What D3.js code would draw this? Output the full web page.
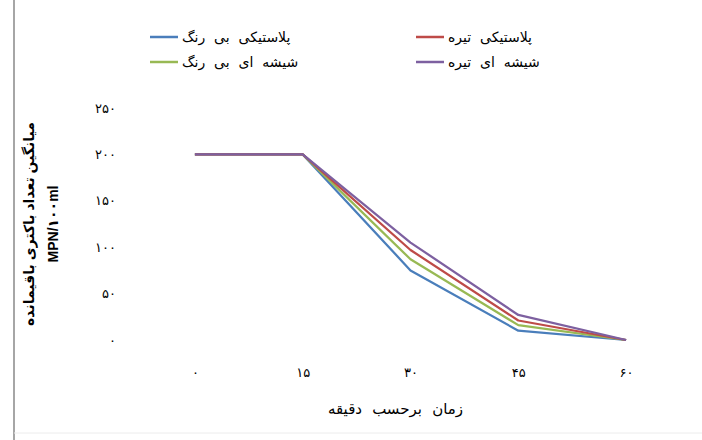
<!DOCTYPE html>
<html>
<head>
<meta charset="utf-8">
<script src="https://cdn.jsdelivr.net/npm/d3@7"></script>
<style>
    html, body { margin: 0; padding: 0; background: #ffffff; }
    #chart { width: 702px; height: 440px; position: relative; }
    text { font-family: 'Liberation Sans', 'DejaVu Sans', sans-serif; fill: #000; }
</style>
</head>
<body>
<div id="chart"></div>
<script>
// time in minutes
const categories = [0, 15, 30, 45, 60];
const categoryLabels = ['۰', '۱۵', '۳۰', '۴۵', '۶۰'];
const yTicks = [0, 50, 100, 150, 200, 250];

// remaining bacteria (MPN/100ml)
const plasticClear = [200, 200, 75, 10, 0];
const plasticDark = [200, 200, 97, 21, 0];
const glassClear = [200, 200, 87, 16, 0];
const glassDark = [200, 200, 105, 27, 0];

const seriesNames = ['پلاستیکی بی رنگ', 'پلاستیکی تیره', 'شیشه ای بی رنگ', 'شیشه ای تیره'];
const seriesColors = ['#4a7ebb', '#be4b48', '#98b954', '#7d60a0'];

const toPersian = (_n) => String(_n).replace(/\d/g, (d) => '۰۱۲۳۴۵۶۷۸۹'[d]);

const size = { width: 702, height: 440 };
const plot = { left: 141, right: 680, top: 108, bottom: 340 };

const svg = d3
    .select('#chart')
    .append('svg')
    .attr('width', size.width)
    .attr('height', size.height);

// frame edges
svg.append('line')
    .attr('x1', 14).attr('x2', 14).attr('y1', 0).attr('y2', size.height)
    .attr('stroke', '#a6a6a6').attr('stroke-width', 2);
svg.append('line')
    .attr('x1', 14).attr('x2', size.width).attr('y1', 433).attr('y2', 433)
    .attr('stroke', '#ececec').attr('stroke-width', 1);

const xScale = d3
    .scalePoint()
    .domain(categories)
    .range([plot.left, plot.right])
    .padding(0.5);
const yScale = d3
    .scaleLinear()
    .domain([0, 250])
    .range([plot.bottom, plot.top]);

// y axis (labels only)
const yAxis = svg
    .append('g')
    .attr('transform', `translate(${plot.left - 25},0)`)
    .call(
        d3.axisLeft(yScale)
            .tickValues(yTicks)
            .tickFormat((d) => toPersian(d))
            .tickSize(0)
            .tickPadding(0)
    );
yAxis.select('.domain').remove();
yAxis.selectAll('text')
    .style('font-family', "'Liberation Sans', 'DejaVu Sans', sans-serif")
    .style('font-size', '13px');

// x axis (labels only)
const xAxis = svg
    .append('g')
    .attr('transform', `translate(0,${plot.bottom + 28})`)
    .call(
        d3.axisBottom(xScale)
            .tickFormat((d, i) => categoryLabels[i])
            .tickSize(0)
            .tickPadding(0)
    );
xAxis.select('.domain').remove();
xAxis.selectAll('text')
    .style('font-family', "'Liberation Sans', 'DejaVu Sans', sans-serif")
    .style('font-size', '13px');

// axis titles
svg.append('text')
    .attr('x', (plot.left + plot.right) / 2 - 15)
    .attr('y', 414)
    .attr('text-anchor', 'middle')
    .style('font-size', '15px')
    .style('word-spacing', '6px')
    .text('زمان برحسب دقیقه');

const yTitle = svg
    .append('text')
    .attr('transform', `translate(34,${(plot.top + plot.bottom) / 2}) rotate(-90)`)
    .attr('text-anchor', 'middle')
    .style('font-size', '14px')
    .style('font-weight', 'bold');
yTitle.append('tspan').attr('x', 0).attr('dy', 0).text('میانگین تعداد باکتری باقیمانده');
yTitle.append('tspan').attr('x', 0).attr('dy', 24).attr('direction', 'ltr').text('MPN/۱۰۰ml');

// lines
const seriesList = [plasticClear, plasticDark, glassClear, glassDark];
const line = d3
    .line()
    .x((d, i) => xScale(categories[i]))
    .y((d) => yScale(d));

// draw bottom to top in the picture order
[0, 2, 1, 3].forEach((_i) => {
    svg.append('path')
        .attr('d', line(seriesList[_i]))
        .attr('fill', 'none')
        .attr('stroke', seriesColors[_i])
        .attr('stroke-width', 2.25)
        .attr('stroke-linejoin', 'round');
});

// legend
const legendPos = [
    { x: 150, y: 37 },
    { x: 416, y: 37 },
    { x: 150, y: 62 },
    { x: 416, y: 62 },
];
seriesNames.forEach((_name, _i) => {
    const pos = legendPos[_i];
    svg.append('line')
        .attr('x1', pos.x).attr('x2', pos.x + 28)
        .attr('y1', pos.y).attr('y2', pos.y)
        .attr('stroke', seriesColors[_i])
        .attr('stroke-width', 2.5);
    svg.append('text')
        .attr('x', pos.x + 32)
        .attr('y', pos.y + 5)
        .style('font-size', '14px')
        .style('word-spacing', '5px')
        .text(_name);
});
</script>
</body>
</html>
